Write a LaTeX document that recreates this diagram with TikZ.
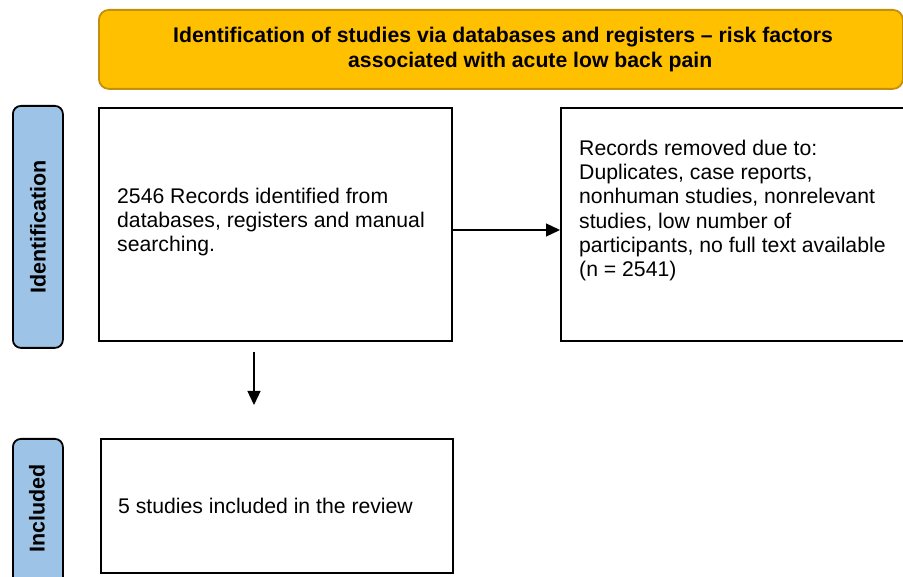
\documentclass[tikz,border=0pt]{standalone}
\usepackage{fontspec}
\setmainfont{Liberation Sans}
\usetikzlibrary{arrows.meta}
\definecolor{headfill}{HTML}{FFC000}
\definecolor{headline}{HTML}{C48F0A}
\definecolor{phasefill}{HTML}{9DC3E6}
\tikzset{
  x=1pt, y=-1pt,
  head/.style={draw=headline, fill=headfill, line width=1.8pt, rounded corners=10pt,
    anchor=north west, inner sep=0pt},
  phase/.style={draw=black, fill=phasefill, line width=1.8pt, rounded corners=8pt,
    anchor=north west, inner sep=0pt, minimum width=50pt},
  phasetxt/.style={rotate=90, font=\bfseries\fontsize{21.5}{24}\selectfont},
  stepbox/.style={draw=black, line width=2pt, anchor=north west, inner sep=0pt},
  txt/.style={anchor=west, align=left, inner sep=0pt, font=\fontsize{21.2}{24.3}\selectfont},
  arr/.style={line width=1.3pt, -{Triangle[length=14pt,width=13pt]}}
}
\begin{document}
\begin{tikzpicture}
\useasboundingbox (0,0) rectangle (903,577);
\fill[white] (0,0) rectangle (903,577);

% title banner
\node[head, minimum width=804pt, minimum height=79pt] (title) at (98,9) {};
\node[anchor=west, align=left, font=\bfseries\fontsize{21.2}{24.5}\selectfont, inner sep=0pt]
  (titletxt) at (173,49.5) {Identification of studies via databases and registers \textendash\ risk factors\\
  \hspace*{175pt}associated with acute low back pain};

% phase labels
\node[phase, minimum height=242pt] (ident) at (12,105) {};
\node[phasetxt] (identtxt) at (ident.center) {Identification};
\node[phase, minimum height=150pt] (incl) at (12,438) {};
\node[phasetxt] (incltxt) at (37,508.5) {Included};

% boxes
\node[stepbox, minimum width=353pt, minimum height=233pt] (rec) at (98,107) {};
\node[txt] (rectxt) at (117,222) {2546 Records identified from\\databases, registers and manual\\searching.};

\node[stepbox, minimum width=350pt, minimum height=233pt] (rem) at (560,107) {};
\node[txt] (remtxt) at (579,210.5) {Records removed due to:\\Duplicates, case reports,\\nonhuman studies, nonrelevant\\studies, low number of\\participants, no full text available\\(n = 2541)};

\node[stepbox, minimum width=352pt, minimum height=134pt] (inc) at (100,438) {};
\node[txt] (inctxt) at (118,506) {5 studies included in the review};

% connectors
\coordinate (hy) at (0,230);
\draw[arr] (rec.east |- hy) -- (rem.west |- hy);
\coordinate (dtop) at (254,352);
\coordinate (dbot) at (254,405);
\draw[arr] (dtop) -- (dbot);
\end{tikzpicture}
\end{document}
